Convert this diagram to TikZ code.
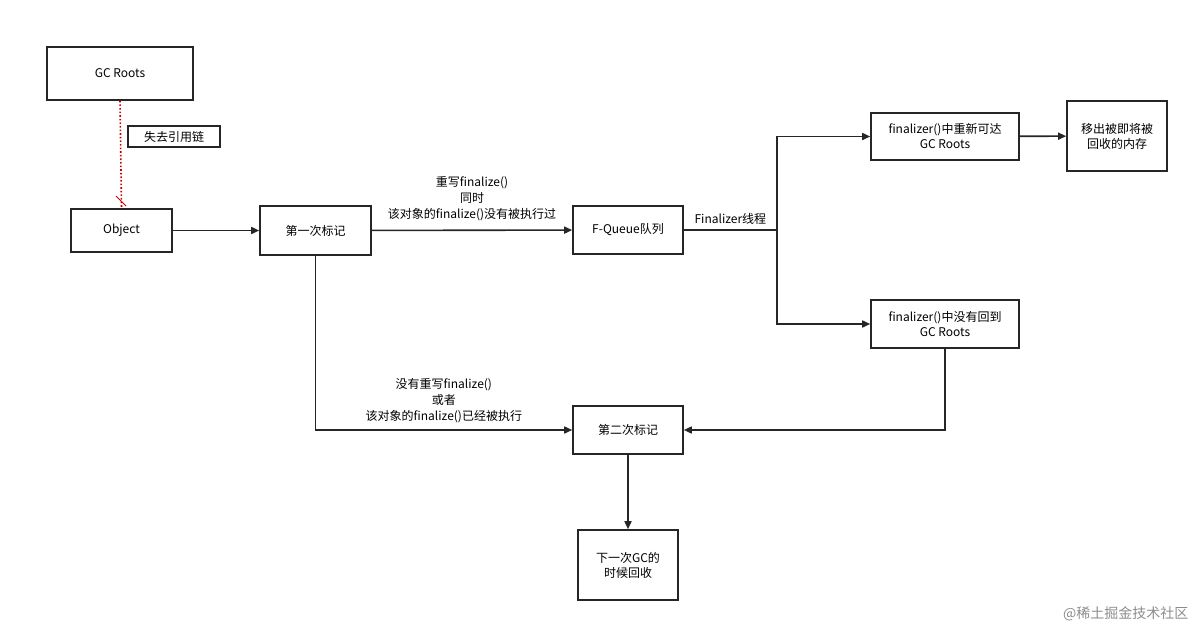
\documentclass[tikz,border=0pt]{standalone}
\usepackage{fontspec}
\setmainfont{Noto Sans CJK SC}
\usetikzlibrary{arrows.meta}
\begin{document}
\begin{tikzpicture}[x=1pt,y=-1pt,
  box/.style={draw=black!85,line width=1.6pt,fill=white,align=center,font=\fontsize{12}{15}\selectfont,inner sep=0pt},
  lbl/.style={align=center,font=\fontsize{12}{16}\selectfont},
  con/.style={draw=black!85,line width=1.6pt,-{Triangle[length=8pt,width=7pt]}},
  ln/.style={draw=black!85,line width=1.6pt}]
\useasboundingbox (0,0) rectangle (1199,632);
\node[box,minimum width=146pt,minimum height=53pt] (gc) at (120,73.5) {GC Roots};
\node[box,minimum width=101pt,minimum height=43pt] (obj) at (121.5,230.5) {Object};
\node[box,minimum width=111pt,minimum height=49pt] (m1) at (315.5,230.5) {第一次标记};
\node[box,minimum width=110pt,minimum height=48pt] (fq) at (628,230) {F-Queue队列};
\node[box,minimum width=148pt,minimum height=47pt] (re) at (945,136.5) {finalizer()中重新可达\\GC Roots};
\node[box,minimum width=100pt,minimum height=70pt] (out) at (1117,136) {移出被即将被\\回收的内存};
\node[box,minimum width=148pt,minimum height=48pt] (no) at (945,324) {finalizer()中没有回到\\GC Roots};
\node[box,minimum width=110pt,minimum height=48pt] (m2) at (628,430) {第二次标记};
\node[box,minimum width=100pt,minimum height=70pt] (nx) at (628,565) {下一次GC的\\时候回收};
\node[draw=black!85,line width=1.6pt,font=\fontsize{12}{15}\selectfont,minimum width=92pt,minimum height=21pt,inner sep=0pt] (lost) at (174,136.5) {失去引用链};
\draw[red!80!black,line width=1.6pt,dotted] (gc.south) -- (obj.north);
\draw[red!80!black,line width=1pt] (116,196) -- (126,206);
\draw[con] (obj) -- (m1);
\draw[con] (m1) -- node[lbl,above=5pt] {重写finalize()\\同时\\该对象的finalize()没有被执行过} (fq);
\coordinate (br) at (777,230);
\draw[ln] (fq.east) -- node[lbl,above=1pt] {Finalizer线程} (br);
\draw[con] (br) |- (re.west);
\draw[con] (br) |- (no.west);
\draw[con] (re) -- (out);
\draw[con] (m1.south) |- node[lbl,pos=0.75,above=3pt] {没有重写finalize()\\或者\\该对象的finalize()已经被执行} (m2.west);
\draw[con] (no.south) |- (m2.east);
\draw[con] (m2) -- (nx);
\node[text=black!45,font=\fontsize{14}{16}\selectfont,anchor=east] (wm) at (1192,614) {@稀土掘金技术社区};
\end{tikzpicture}
\end{document}
